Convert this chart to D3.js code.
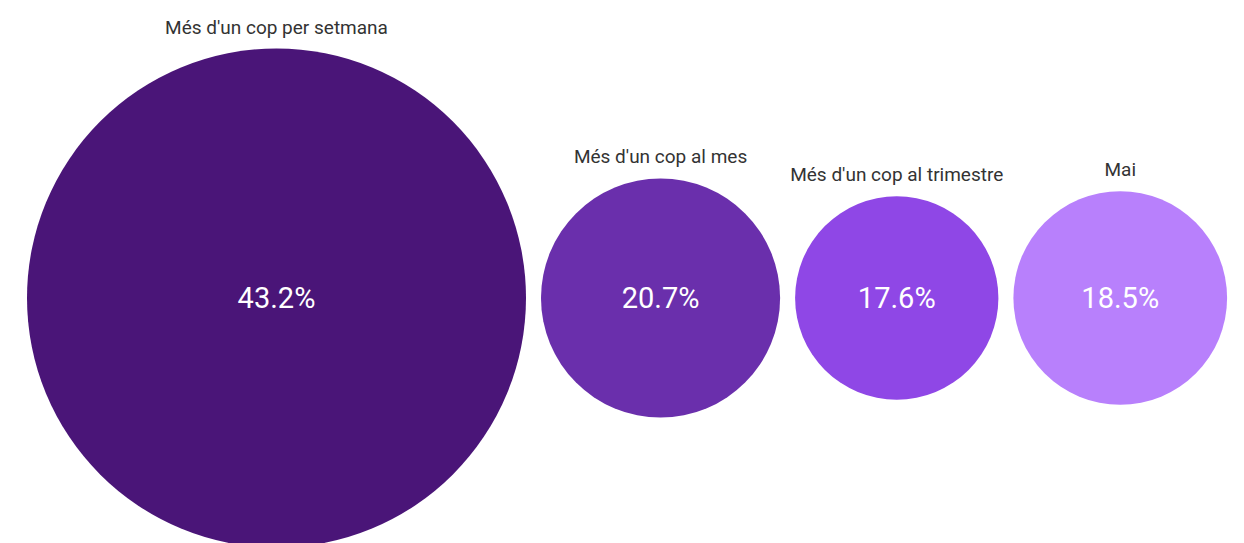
<!DOCTYPE html>
<html lang="ca">
<head>
  <meta charset="UTF-8">
  <title>Bubble chart</title>
  <script src="https://d3js.org/d3.v7.min.js"></script>
  <style>
    body { margin: 0; background: #fff; }
    .label { font-family: Roboto, sans-serif; font-size: 19px; fill: #333; text-anchor: middle; }
    .value { font-family: Roboto, sans-serif; font-size: 29px; fill: #fff; text-anchor: middle; }
  </style>
</head>
<body>
  <div id="chart"></div>
  <script>
    // data
    const categories = ["Més d'un cop per setmana", "Més d'un cop al mes", "Més d'un cop al trimestre", "Mai"];
    const values = [43.2, 20.7, 17.6, 18.5];
    const colors = ["#4a1578", "#6a2fac", "#8f47e6", "#b880fc"];

    const width = 1244;
    const height = 543;
    const startX = 27;
    const gap = 15;
    const cy = 298;

    const svg = d3.select("#chart")
      .append("svg")
      .attr("width", width)
      .attr("height", height);

    // radius is linear in value
    const r = d3.scaleLinear().domain([0, 43.2]).range([0, 249.5]);

    // place circles side by side with a fixed gap
    let x = startX;
    const nodes = values.map((v, i) => {
      const rad = r(v);
      const cx = x + rad;
      x += 2 * rad + gap;
      return { name: categories[i], value: v, color: colors[i], cx, rad };
    });

    const g = svg.selectAll("g.bubble")
      .data(nodes)
      .enter()
      .append("g")
      .attr("class", "bubble")
      .attr("transform", d => `translate(${d.cx},${cy})`);

    g.append("circle")
      .attr("r", d => d.rad)
      .attr("fill", d => d.color);

    g.append("text")
      .attr("class", "value")
      .attr("dy", "0.35em")
      .text(d => d.value.toFixed(1) + "%");

    g.append("text")
      .attr("class", "label")
      .attr("y", d => -d.rad - 15)
      .text(d => d.name);
  </script>
</body>
</html>
